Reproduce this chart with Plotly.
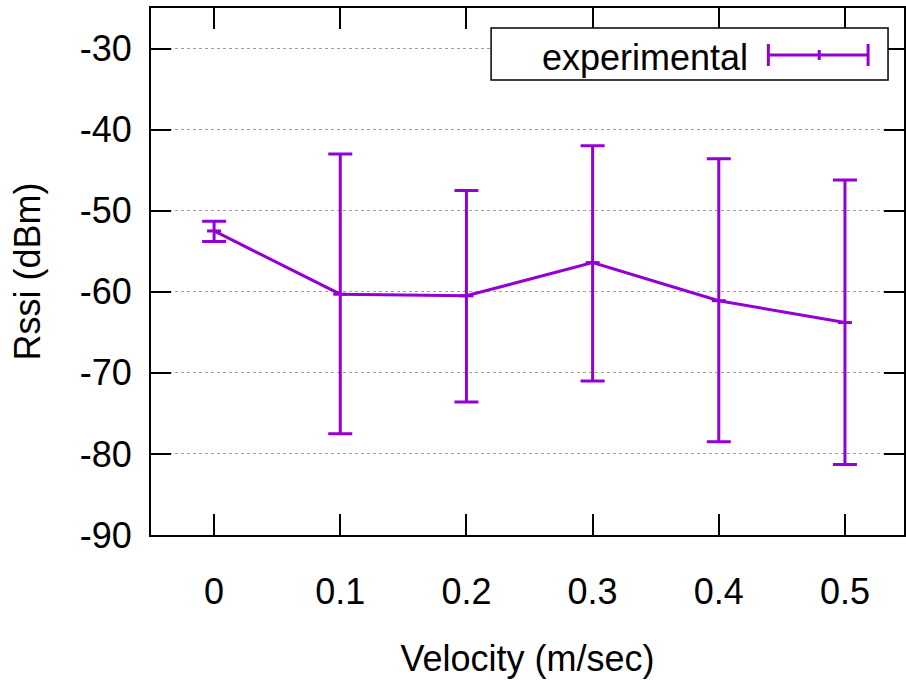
import plotly.graph_objects as go

velocity = [0, 0.1, 0.2, 0.3, 0.4, 0.5]
rssi_mean = [-52.5, -60.3, -60.5, -56.4, -61.1, -63.8]
rssi_high = [-51.3, -43.0, -47.5, -42.0, -43.6, -46.2]
rssi_low = [-53.8, -77.5, -73.6, -71.0, -78.5, -81.3]
x_ticks = [0, 0.1, 0.2, 0.3, 0.4, 0.5]
x_labels = ["0", "0.1", "0.2", "0.3", "0.4", "0.5"]
y_ticks = [-90, -80, -70, -60, -50, -40, -30]
y_labels = ["-90", "-80", "-70", "-60", "-50", "-40", "-30"]
series_name = "experimental"

COLOR = "#9400D3"
FONT = "Liberation Sans, Arial, sans-serif"
FS = 36

err_plus = [h - m for h, m in zip(rssi_high, rssi_mean)]
err_minus = [m - l for m, l in zip(rssi_mean, rssi_low)]

fig = go.Figure()
fig.add_trace(go.Scatter(
    x=velocity, y=rssi_mean, mode="lines+markers", name=series_name,
    line=dict(color=COLOR, width=3),
    marker=dict(symbol="line-ew-open", size=10, color=COLOR, line=dict(color=COLOR, width=3)),
    error_y=dict(type="data", symmetric=False, array=err_plus, arrayminus=err_minus,
                 color=COLOR, thickness=3, width=12),
    showlegend=False,
))

# legend box (gnuplot style: text then error-bar sample)
fig.add_shape(type="rect", xref="paper", yref="paper",
              x0=(492 - 151) / 755, x1=(890 - 151) / 755,
              y0=(535 - 80) / 527, y1=(535 - 28) / 527,
              line=dict(color="black", width=1.5), fillcolor="white", layer="above")
fig.add_annotation(xref="paper", yref="paper", x=(752 - 151) / 755, y=(535 - 57) / 527,
                   text=series_name, showarrow=False, xanchor="right", yanchor="middle",
                   font=dict(family=FONT, size=FS, color="black"))
ly = (535 - 55) / 527
lx0 = (770 - 151) / 755
lx1 = (870 - 151) / 755
lxm = (821 - 151) / 755
fig.add_shape(type="line", xref="paper", yref="paper", x0=lx0, x1=lx1, y0=ly, y1=ly,
              line=dict(color=COLOR, width=3))
for xx, half in [(lx0, 11), (lx1, 11), (lxm, 5)]:
    fig.add_shape(type="line", xref="paper", yref="paper", x0=xx, x1=xx,
                  y0=ly - half / 527, y1=ly + half / 527, line=dict(color=COLOR, width=3))

fig.update_layout(
    width=906, height=694,
    margin=dict(l=151, r=0, t=8, b=159),
    paper_bgcolor="white", plot_bgcolor="white",
    font=dict(family=FONT, size=FS, color="black"),
    xaxis=dict(range=[-0.05, 0.5468], tickvals=x_ticks, ticktext=x_labels,
               tickfont=dict(family=FONT, size=FS, color="black"),
               ticks="inside", ticklen=21, tickwidth=1.5, tickcolor="black",
               showline=True, linecolor="black", linewidth=2, mirror="ticks",
               showgrid=False, zeroline=False, ticklabelstandoff=24,
               title=dict(text="Velocity (m/sec)", standoff=35,
                          font=dict(family=FONT, size=FS))),
    yaxis=dict(range=[-90, -25], tickvals=y_ticks, ticktext=y_labels,
               tickfont=dict(family=FONT, size=FS, color="black"),
               ticks="inside", ticklen=20, tickwidth=1.5, tickcolor="black",
               showline=True, linecolor="black", linewidth=2, mirror="ticks",
               showgrid=True, gridcolor="#a0a0a0", griddash="dot", gridwidth=1,
               zeroline=False, ticklabelstandoff=10,
               title=dict(text="Rssi (dBm)", standoff=28,
                          font=dict(family=FONT, size=FS))),
)

fig.write_html("out.html")
